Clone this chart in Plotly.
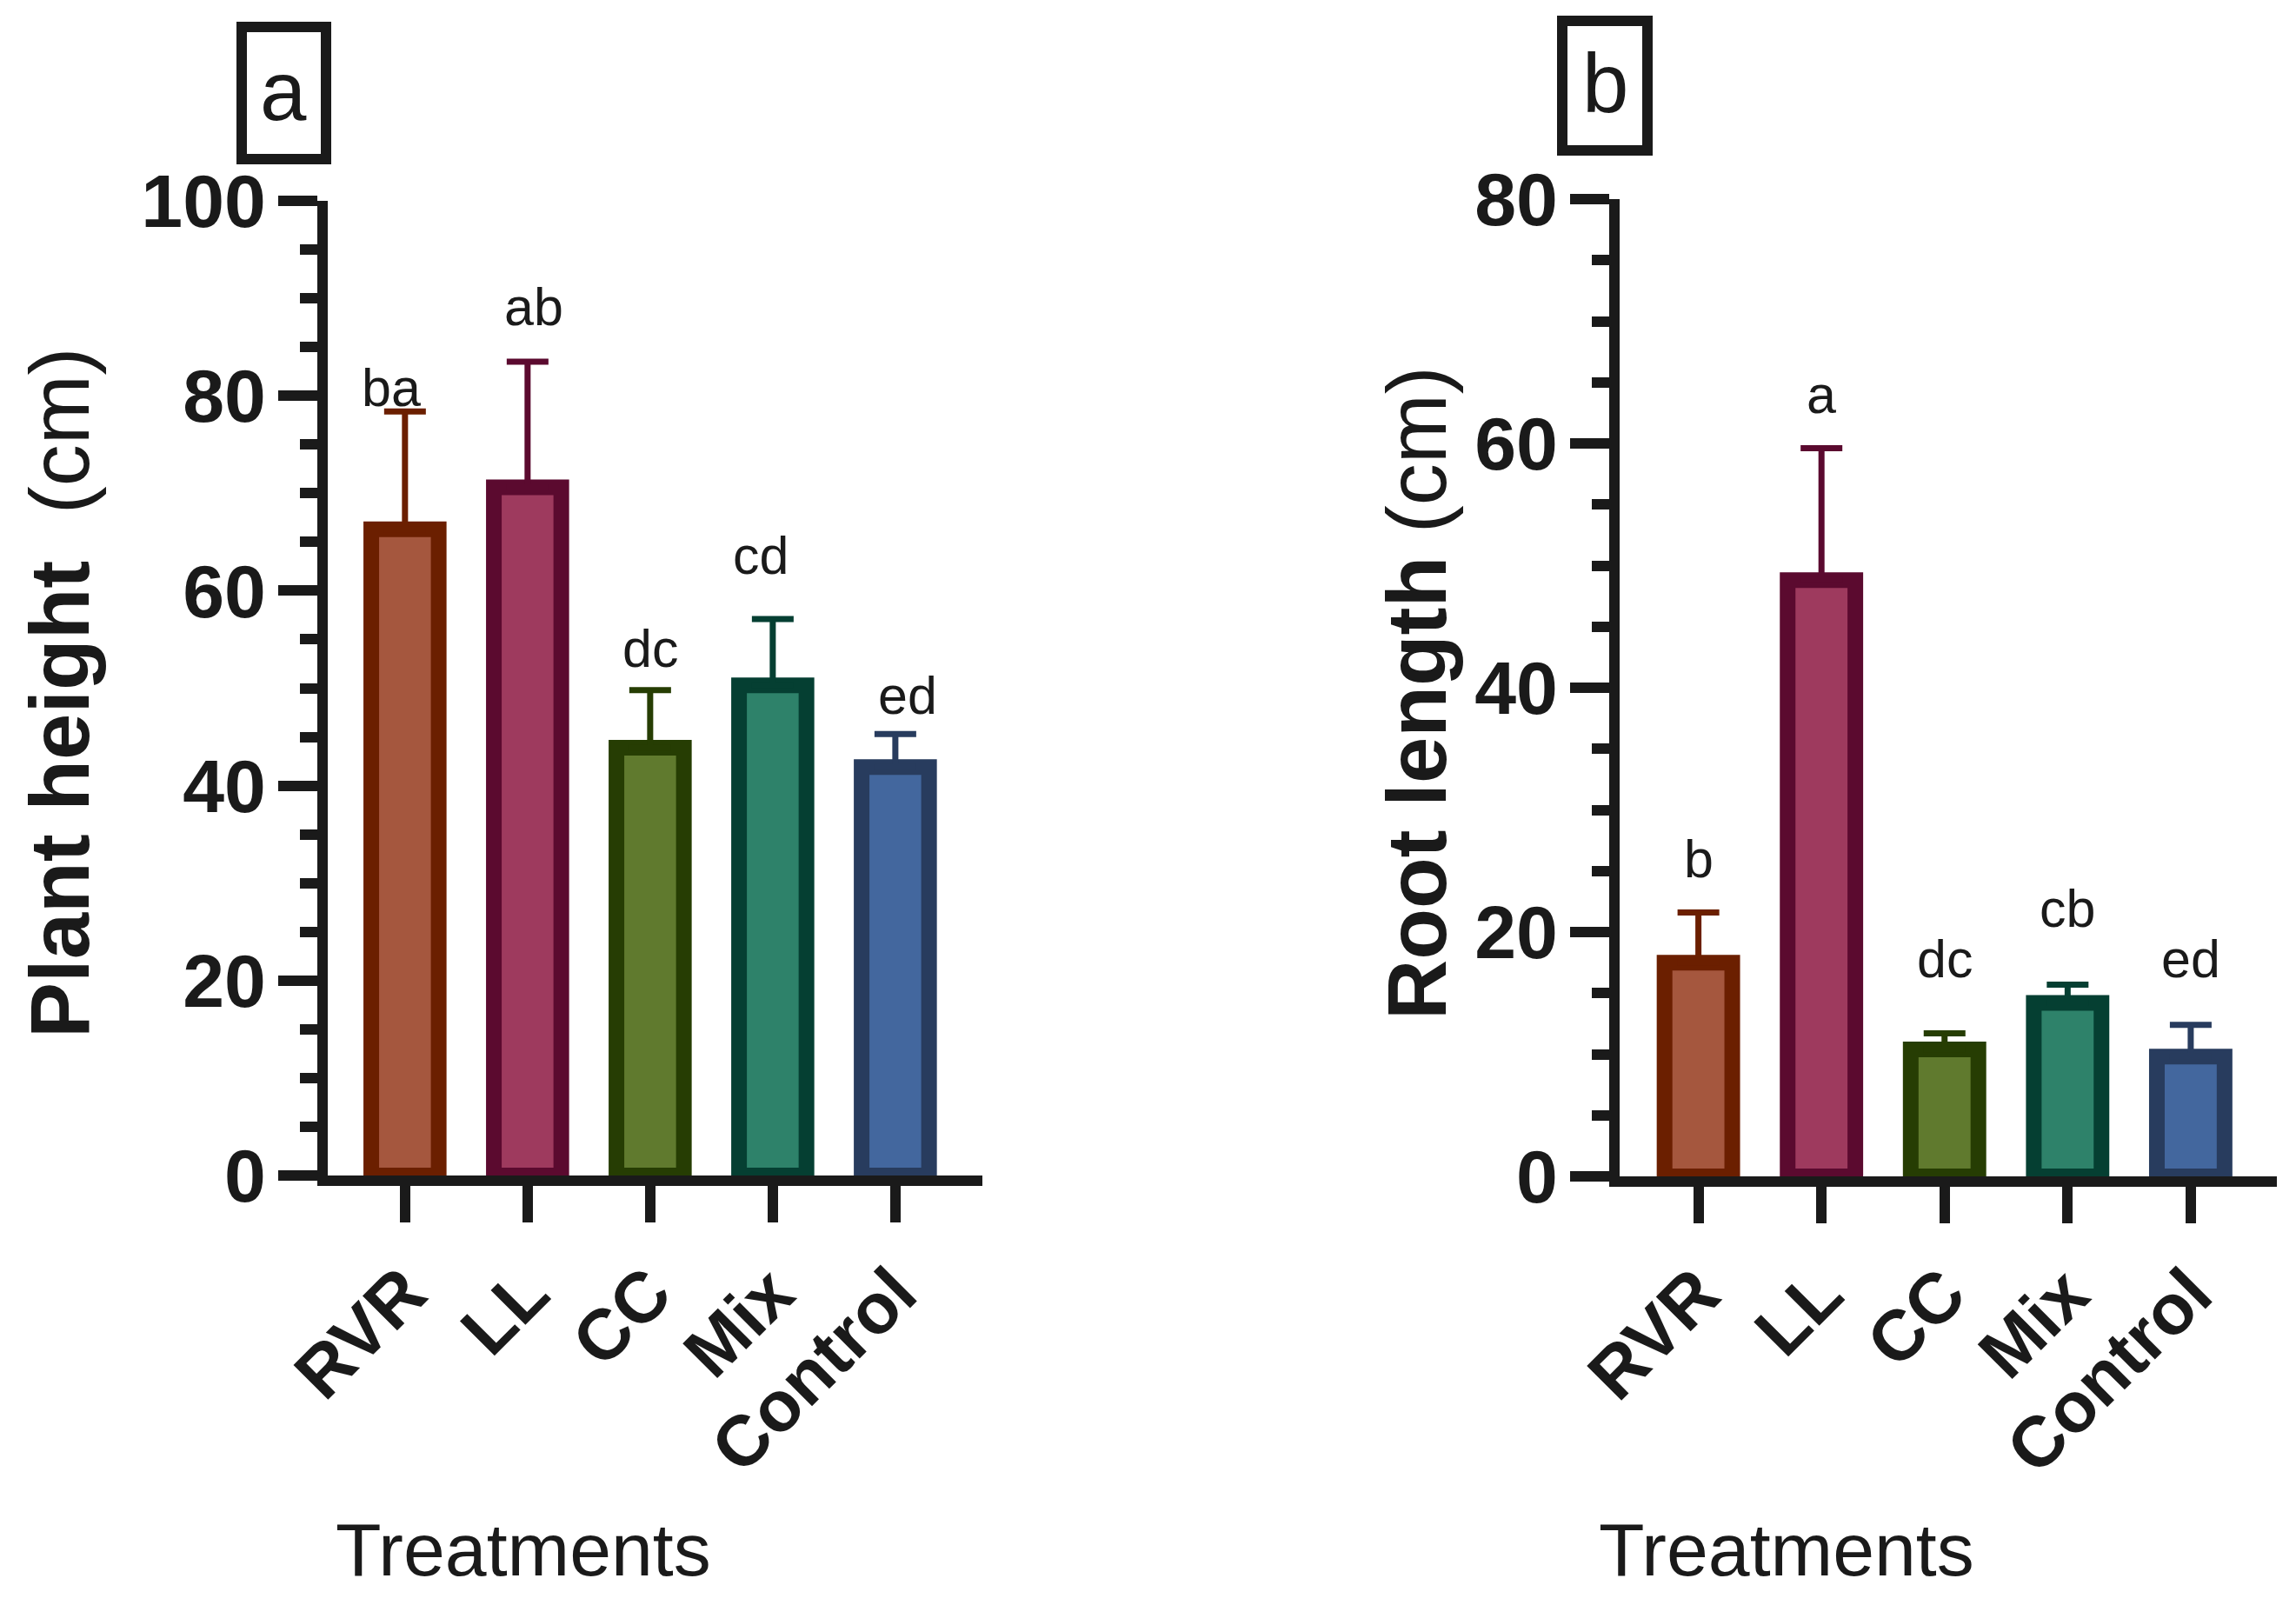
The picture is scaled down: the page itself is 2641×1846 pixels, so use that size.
import plotly.graph_objects as go

W, H = 2641, 1846

treatments = ["RVR", "LL", "CC", "Mix", "Control"]

height_mean = [66.3, 70.6, 43.9, 50.3, 41.9]
height_err = [12.1, 12.9, 5.9, 6.8, 3.4]
height_letters = ["ba", "ab", "dc", "cd", "ed"]
height_letter_y = [80.8, 89.1, 54.1, 63.6, 49.2]

root_mean = [17.5, 48.8, 10.4, 14.2, 9.8]
root_err = [4.1, 10.8, 1.3, 1.5, 2.6]
root_letters = ["b", "a", "dc", "cb", "ed"]
root_letter_y = [26.0, 64.0, 17.8, 21.9, 17.8]

fills = ["#A5573E", "#9E3A5E", "#607A2E", "#2E826A", "#43679E"]
borders = ["#6B1F00", "#5B0A2F", "#263D03", "#053F32", "#283C5E"]
ink = "#1a1a1a"
font = "Liberation Sans, Arial, sans-serif"

# small sideways nudges (px) of the letters in panel a
letter_shift_a = [-16, 7, 0, -14, 14]

OFF = 8  # the page body adds an 8px margin


def px_x(p):
    return (p - OFF) / W


def px_y(p):
    return 1 - (p - OFF) / H


fig = go.Figure()

for i, t in enumerate(treatments):
    fig.add_trace(go.Bar(
        x=[t], y=[height_mean[i]], width=0.55,
        marker=dict(color=fills[i], line=dict(color=borders[i], width=18)),
        error_y=dict(type="data", symmetric=False, array=[height_err[i]], arrayminus=[0],
                     color=borders[i], thickness=7, width=24),
        xaxis="x", yaxis="y", showlegend=False))
    fig.add_trace(go.Bar(
        x=[t], y=[root_mean[i]], width=0.55,
        marker=dict(color=fills[i], line=dict(color=borders[i], width=18)),
        error_y=dict(type="data", symmetric=False, array=[root_err[i]], arrayminus=[0],
                     color=borders[i], thickness=7, width=24),
        xaxis="x2", yaxis="y2", showlegend=False))

xcommon = dict(type="category", categoryorder="array", categoryarray=treatments,
               showline=True, linewidth=12, linecolor=ink, mirror=False, automargin=False,
               ticks="outside", ticklen=42, tickwidth=12, tickcolor=ink,
               tickangle=-45, tickfont=dict(family=font, size=82, color=ink, weight="bold"),
               showgrid=False, zeroline=False)
ycommon = dict(showline=True, linewidth=12, linecolor=ink, automargin=False,
               ticks="outside", ticklen=45, tickwidth=12, tickcolor=ink,
               tickfont=dict(family=font, size=86, color=ink, weight="bold"),
               ticklabelstandoff=-3,
               minor=dict(dtick=5, ticks="outside", ticklen=20, tickwidth=12, tickcolor=ink),
               showgrid=False, zeroline=False, dtick=20)

fig.update_layout(
    template="none",
    width=W, height=H, autosize=False,
    margin=dict(l=0, r=0, t=0, b=0, pad=0),
    paper_bgcolor="white", plot_bgcolor="white",
    barmode="overlay",
    xaxis=dict(xcommon, domain=[px_x(377), px_x(1130)], range=[-0.63, 4.71], anchor="y"),
    yaxis=dict(ycommon, domain=[px_y(1352), px_y(231)], range=[0, 100], anchor="x"),
    xaxis2=dict(xcommon, domain=[px_x(1863), px_x(2619)], range=[-0.64, 4.70], anchor="y2"),
    yaxis2=dict(ycommon, domain=[px_y(1353), px_y(229)], range=[0, 80], anchor="x2"),
)


def note(x, y, text, size, xref="paper", yref="paper", **kw):
    return dict(x=x, y=y, xref=xref, yref=yref, text=text, showarrow=False,
                xanchor="center", yanchor="middle",
                font=dict(family=font, size=size, color=ink), **kw)


ann = []
for i, t in enumerate(treatments):
    ann.append(note(t, height_letter_y[i], height_letters[i], 61, "x", "y",
                    xshift=letter_shift_a[i]))
    ann.append(note(t, root_letter_y[i], root_letters[i], 61, "x2", "y2"))

# axis titles
ann.append(note(px_x(68), px_y(797), "<b>Plant height</b>\u00a0\u00a0(cm)", 96, textangle=-90))
ann.append(note(px_x(1629), px_y(797), "<b>Root length</b> (cm)", 96, textangle=-90))
ann.append(note(px_x(602), px_y(1782), "Treatments", 86))
ann.append(note(px_x(2055), px_y(1782), "Treatments", 86))

# panel tags
ann.append(note(px_x(326), px_y(104), "a", 96))
ann.append(note(px_x(1846), px_y(96), "b", 96))
fig.update_layout(annotations=ann)

fig.add_shape(type="rect", xref="paper", yref="paper",
              x0=px_x(278), x1=px_x(375), y0=px_y(183), y1=px_y(31),
              line=dict(color=ink, width=12))
fig.add_shape(type="rect", xref="paper", yref="paper",
              x0=px_x(1797), x1=px_x(1895), y0=px_y(173), y1=px_y(24),
              line=dict(color=ink, width=12))

fig.write_html("out.html")
